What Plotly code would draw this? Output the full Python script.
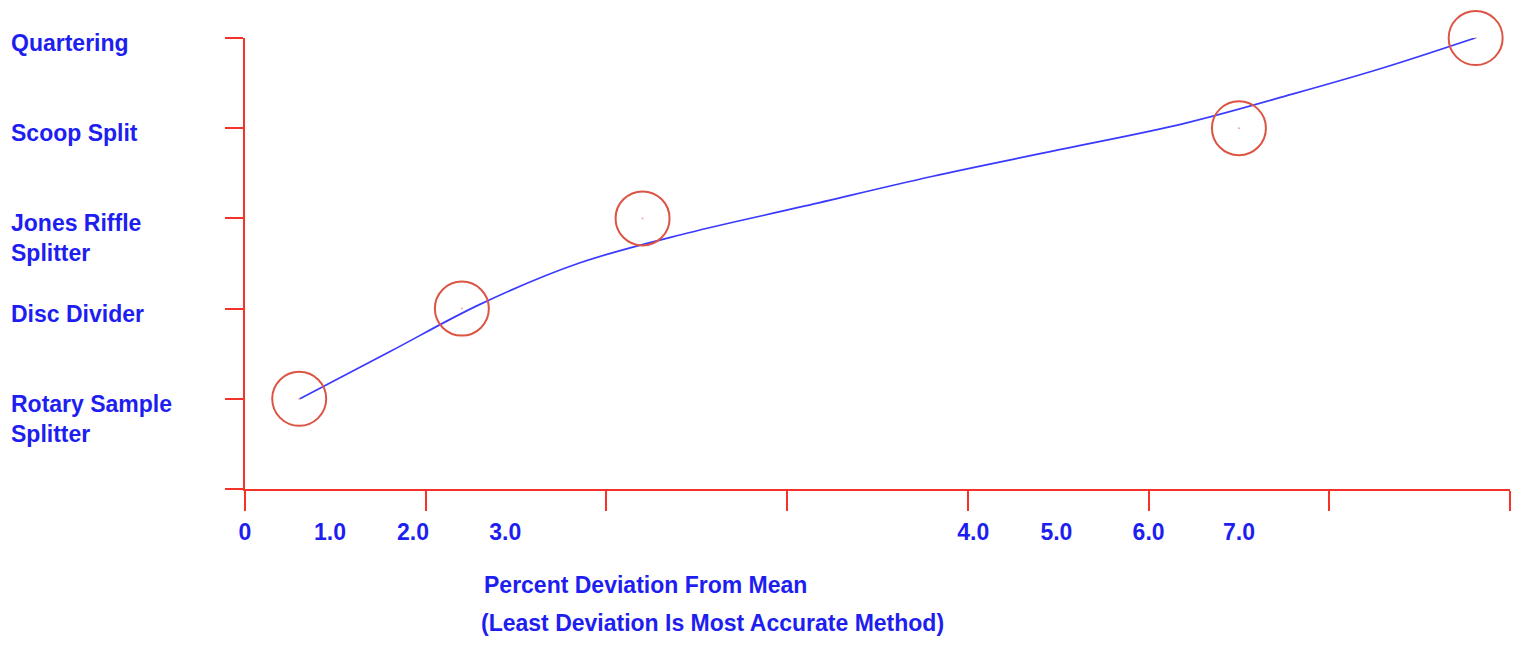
import plotly.graph_objects as go

# ---- data (x in axis tick units, y = method index) ----
methods = ["Rotary Sample<br>Splitter", "Disc Divider", "Jones Riffle<br>Splitter",
           "Scoop Split", "Quartering"]
method_y = [0, 1, 2, 3, 4]
point_x = [0.30, 1.20, 2.20, 5.50, 6.81]

fit_x = [0.304, 0.80, 1.30, 1.85, 2.45, 3.10, 3.80, 4.50, 5.20, 5.80, 6.30, 6.807]
fit_y = [0.000, 0.521, 1.047, 1.505, 1.838, 2.138, 2.465, 2.759, 3.054, 3.380, 3.670, 4.000]

x_tick_marks = [0, 1, 2, 3, 4, 5, 6, 7]
y_tick_marks = [-1, 0, 1, 2, 3, 4]
x_label_pos = [0.0, 0.47, 0.93, 1.44, 4.03, 4.49, 5.00, 5.50]
x_label_text = ["0", "1.0", "2.0", "3.0", "4.0", "5.0", "6.0", "7.0"]

title_line1 = "Percent Deviation From Mean"
title_line2 = "(Least Deviation Is Most Accurate Method)"

BLUE_TXT = "#1e1ef0"
RED = "#f5332a"
CIRCLE = "#dc5444"
LINE = "#3a3aff"
FONT = "Liberation Sans, Arial, sans-serif"
FS = 23

fig = go.Figure()
fig.add_trace(go.Scatter(x=fit_x, y=fit_y, mode="lines",
                         line=dict(color=LINE, width=1.7, shape="spline", smoothing=1.0),
                         hoverinfo="skip", cliponaxis=False, showlegend=False))
fig.add_trace(go.Scatter(x=point_x, y=method_y, mode="markers",
                         marker=dict(symbol="circle-open", size=54,
                                     line=dict(color=CIRCLE, width=2), color=CIRCLE),
                         cliponaxis=False, showlegend=False))
fig.add_trace(go.Scatter(x=point_x, y=method_y, mode="markers",
                         marker=dict(symbol="circle", size=2, color="rgba(220,84,68,0.5)"),
                         cliponaxis=False, showlegend=False))
# invisible trace on the label axis
fig.add_trace(go.Scatter(x=[x_label_pos[0]], y=[0], xaxis="x2", mode="markers",
                         marker=dict(opacity=0), hoverinfo="skip", showlegend=False))

# page body has an 8px margin; figure sized/offset accordingly
OFF = 8
W, H = 1525 - 2 * OFF, 645 - 2 * OFF
L = 245 - OFF
T = 38 - OFF
R = W - (1510 - OFF)
B = H - (489 - OFF)

fig.update_layout(
    width=W, height=H,
    margin=dict(l=L, r=R, t=T, b=B),
    paper_bgcolor="white", plot_bgcolor="white",
    xaxis=dict(range=[0, 7], tickvals=x_tick_marks, showticklabels=False,
               ticks="outside", ticklen=20, tickwidth=2, tickcolor=RED,
               showline=True, linecolor=RED, linewidth=2,
               showgrid=False, zeroline=False),
    xaxis2=dict(range=[0, 7], overlaying="x", side="bottom", anchor="y",
                tickvals=x_label_pos, ticktext=x_label_text,
                ticks="outside", ticklen=22, tickcolor="rgba(0,0,0,0)",
                tickfont=dict(family=FONT, size=FS, color=BLUE_TXT, weight="bold"),
                showline=False, showgrid=False, zeroline=False),
    yaxis=dict(range=[-1, 4], tickvals=y_tick_marks, showticklabels=False,
               ticks="outside", ticklen=18, tickwidth=2, tickcolor=RED,
               showline=True, linecolor=RED, linewidth=2,
               showgrid=False, zeroline=False),
)

plot_w = W - L - R
plot_h = H - T - B
label_x = (9 - 245) / plot_w
for name, yv in zip(methods, method_y):
    fig.add_annotation(x=label_x, xref="paper", y=yv, yref="y",
                       text=name, showarrow=False, xanchor="left", yanchor="top",
                       align="left", yshift=10,
                       font=dict(family=FONT, size=FS, color=BLUE_TXT, weight="bold"))

fig.add_annotation(x=(482 - 245) / plot_w, xref="paper", y=(489 - 585) / plot_h, yref="paper",
                   text=title_line1, showarrow=False, xanchor="left", yanchor="middle",
                   font=dict(family=FONT, size=FS, color=BLUE_TXT, weight="bold"))
fig.add_annotation(x=(479 - 245) / plot_w, xref="paper", y=(489 - 623) / plot_h, yref="paper",
                   text=title_line2, showarrow=False, xanchor="left", yanchor="middle",
                   font=dict(family=FONT, size=FS, color=BLUE_TXT, weight="bold"))

fig.write_html("out.html")
